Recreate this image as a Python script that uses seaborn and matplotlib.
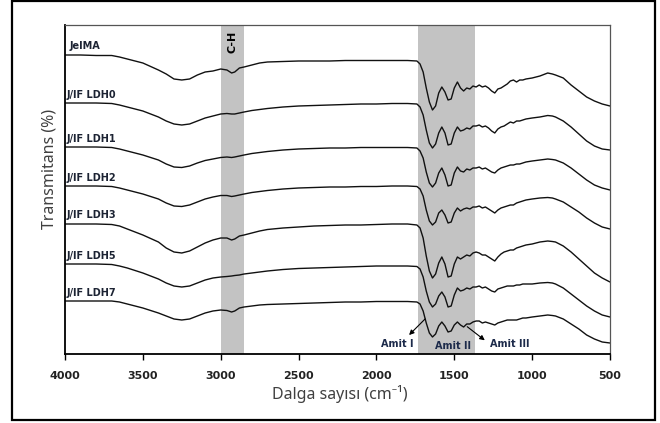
import numpy as np
import pandas as pd
import matplotlib
matplotlib.use("Agg")
import matplotlib.pyplot as plt
from matplotlib.patches import Rectangle
import seaborn as sns

# Wavenumber grid (cm^-1) shared by all stacked spectra
wavenumber = [4000, 3900, 3800, 3700, 3650, 3600, 3500, 3400, 3350, 3300,
              3250, 3200, 3150, 3100, 3050, 3000, 2960, 2930, 2910, 2880,
              2850, 2800, 2750, 2700, 2600, 2500, 2400, 2300, 2200, 2100,
              2000, 1900, 1800, 1740, 1720, 1700, 1680, 1660, 1640, 1620,
              1600, 1580, 1560, 1540, 1520, 1500, 1480, 1460, 1440, 1420,
              1400, 1380, 1360, 1340, 1320, 1300, 1280, 1260, 1240, 1220,
              1200, 1180, 1160, 1140, 1120, 1100, 1080, 1060, 1040, 1000,
              950, 900, 870, 850, 800, 750, 700, 650, 600, 550, 500]

# Offset transmittance (a.u.) of each sample, stacked top to bottom
jelma = [299, 299, 298.5, 298.5, 297, 295, 291, 284, 280, 275,
         274, 275, 279, 282, 283, 285, 284, 281, 282, 286,
         287, 289, 291, 292, 292.5, 293, 293, 293, 293.5, 293.5,
         293.5, 293.5, 293.5, 293, 290, 282, 266, 252, 244, 248,
         261, 267, 262, 254, 255, 266, 272, 266, 263, 266,
         265, 268, 267, 269, 267, 268, 266, 263, 261, 265,
         266, 268, 270, 273, 274, 272, 274, 274, 275, 276,
         278, 281, 280, 279, 276, 269, 263, 257, 253, 250, 248]
ldh0 = [251, 251, 251, 250.5, 249, 247, 243, 237, 233, 230,
        229, 230, 233, 236, 238, 240, 240.5, 240, 240, 241,
        242, 243.5, 244.5, 245.5, 247, 248, 248.5, 249, 249.5, 250,
        250, 250.5, 250.5, 250, 247, 239, 224, 211, 206, 210,
        221, 227, 221, 209, 210, 221, 227, 223, 224, 226,
        225, 228, 228, 229, 227, 228, 226, 223, 221, 225,
        227, 228, 230, 232, 231, 233, 233, 234, 235, 236,
        237, 238.5, 238, 237, 233, 227, 220, 213, 208, 205, 204]
ldh1 = [207, 207, 207, 206.5, 205, 203, 199, 194, 190, 187,
        186.5, 188, 191, 193.5, 195, 196.5, 197, 196.5, 197, 198,
        199, 200.5, 201.5, 202.5, 204, 205, 205.5, 206, 206, 206.5,
        206.5, 206.5, 206.5, 206, 203, 196, 182, 171, 167, 171,
        181, 186, 179, 168, 169, 181, 187, 183, 182, 185,
        184, 186, 186, 187, 185, 186, 184, 182, 181, 184,
        186, 187, 188, 189, 189, 190, 190, 191, 192, 193,
        194, 195, 194.5, 194, 191, 186, 180, 174, 169, 166, 164]
ldh2 = [168, 168, 168, 167.5, 166, 164, 160, 155, 151, 148,
        147.5, 149, 152, 155, 157, 158.5, 158.5, 157.5, 158, 159,
        160, 161.5, 162.5, 163.5, 165, 166, 166.5, 167, 167, 167.5,
        167.5, 168, 168, 167.5, 165, 158, 144, 133, 129, 132,
        141, 144, 139, 131, 132, 141, 146, 143, 145, 146,
        145, 147, 147, 148, 146, 147, 145, 143, 141, 144,
        146, 147, 148, 149, 149, 151, 152, 153, 154, 155,
        156, 156.5, 156, 155, 152, 147, 142, 136, 131, 127, 125]
ldh3 = [130, 130, 130, 129.5, 128, 125, 119, 112, 106, 102,
        101, 103, 107, 111, 114, 116, 116, 114, 115, 118,
        119, 121, 123, 124.5, 126, 127, 128, 128.5, 129, 129,
        129.5, 130, 130, 129, 126, 116, 98, 83, 76, 80,
        91, 97, 90, 77, 78, 90, 97, 95, 97, 99,
        98, 101, 102, 101, 99, 99, 97, 95, 93, 97,
        100, 102, 103, 104, 104, 106, 107, 108, 109, 110,
        112, 113, 112.5, 112, 108, 102, 95, 88, 81, 76, 72]
ldh5 = [90, 90, 90, 89.5, 88, 86, 81, 75, 71, 68,
        67, 68, 71, 74, 76, 77, 77.5, 78, 78.5, 79,
        80, 81, 82, 83, 84.5, 85.5, 86, 86.5, 87, 87.5,
        88, 88, 88, 87.5, 85, 77, 63, 52, 47, 50,
        58, 62, 57, 47, 48, 59, 66, 63, 64, 66,
        65, 67, 67, 68, 66, 67, 65, 63, 62, 65,
        66, 67, 68, 68, 68, 69, 69, 70, 70, 70,
        71, 71.5, 71, 70, 66, 60, 54, 48, 43, 39, 37]
ldh7 = [53, 53, 53, 53, 52, 50, 46, 41, 38, 35,
        34, 35, 38, 41, 43, 44, 43.5, 42, 43, 46,
        47, 48, 49, 49.5, 50, 50.5, 51, 51.5, 52, 52,
        52.5, 52.5, 52.5, 52, 50, 43, 31, 21, 17, 20,
        28, 32, 28, 22, 23, 29, 32, 29, 27, 30,
        30, 32, 33, 33, 31, 32, 31, 30, 29, 31,
        32, 33, 34, 34, 34, 34, 35, 36, 36, 37,
        38, 39, 38.5, 38, 35, 30, 25, 19, 15, 12, 11]

samples = ["JelMA", "J/IF LDH0", "J/IF LDH1", "J/IF LDH2",
           "J/IF LDH3", "J/IF LDH5", "J/IF LDH7"]
spectra = [jelma, ldh0, ldh1, ldh2, ldh3, ldh5, ldh7]
label_y = [308, 259, 215, 176, 139, 98, 61]

x_ticks = [4000, 3500, 3000, 2500, 2000, 1500, 1000, 500]
band_ch = (2850, 3000)
band_amide = (1365, 1735)

sns.set_theme(style="white")
plt.rcParams["font.family"] = ["Noto Sans", "DejaVu Sans"]
BOLD = ["DejaVu Sans"]

frames = [pd.DataFrame({"wavenumber": wavenumber, "T": s, "sample": n})
          for n, s in zip(samples, spectra)]
df = pd.concat(frames, ignore_index=True)

fig = plt.figure(figsize=(6.6, 4.23), dpi=100)
ax = fig.add_axes([65 / 660, 69 / 423, 545 / 660, 329 / 423])

ax.axvspan(*band_ch, color="#c3c3c3", lw=0, zorder=0)
ax.axvspan(*band_amide, color="#c3c3c3", lw=0, zorder=0)

sns.lineplot(data=df, x="wavenumber", y="T", units="sample", estimator=None,
             sort=False, color="#111111", lw=1.0, ax=ax, legend=False, zorder=2)

ax.set_xlim(4000, 500)
ax.set_ylim(0, 329)
ax.set_xticks(x_ticks)
ax.set_xticklabels([str(t) for t in x_ticks], fontsize=8, fontweight="bold",
                   color="#222222", family=BOLD)
ax.set_yticks([])
ax.tick_params(axis="x", direction="out", length=4, width=1, color="black",
               pad=8, bottom=True)
ax.set_xlabel("")
ax.set_ylabel("")
for side in ["left", "bottom"]:
    ax.spines[side].set_color("black")
    ax.spines[side].set_linewidth(1.3)
for side in ["top", "right"]:
    ax.spines[side].set_color("#555555")
    ax.spines[side].set_linewidth(0.9)

# sample names above each trace
for name, yv in zip(samples, label_y):
    x0 = 3970 if name == "JelMA" else 3990
    ax.text(x0, yv, name, fontsize=7, fontweight="bold", color="#1c2333",
            family=BOLD, ha="left", va="center", zorder=3)

ax.text(2925, 312, "C-H", rotation=90, fontsize=8, fontweight="bold",
        color="black", family=BOLD, ha="center", va="center", zorder=3)

amide_kw = dict(fontsize=7, fontweight="bold", color="#1c2a4a", family=BOLD,
                ha="center", va="center", zorder=3)
ax.text(1868, 10, "Amit I", **amide_kw)
ax.text(1508, 8, "Amit II", **amide_kw)
ax.text(1142, 10, "Amit III", **amide_kw)
arrow_kw = dict(arrowstyle="-|>", color="black", lw=0.8, mutation_scale=7)
ax.annotate("", xy=(1803, 17), xytext=(1675, 37), arrowprops=arrow_kw)
ax.annotate("", xy=(1290, 12), xytext=(1431, 29), arrowprops=arrow_kw)

fig.text(340 / 660, 1 - 394 / 423, "Dalga sayısı (cm⁻¹)", fontsize=11.5,
         color="#404040", ha="center", va="center")
fig.text(50 / 660, 1 - 169 / 423, "Transmitans (%)", fontsize=11.5,
         color="#404040", rotation=90, ha="center", va="center")

fig.patches.append(Rectangle((12 / 660, 3 / 423), 643 / 660, 419 / 423,
                             transform=fig.transFigure, fill=False,
                             edgecolor="black", lw=1.6))

fig.savefig("out.png", dpi=100, facecolor="white")
